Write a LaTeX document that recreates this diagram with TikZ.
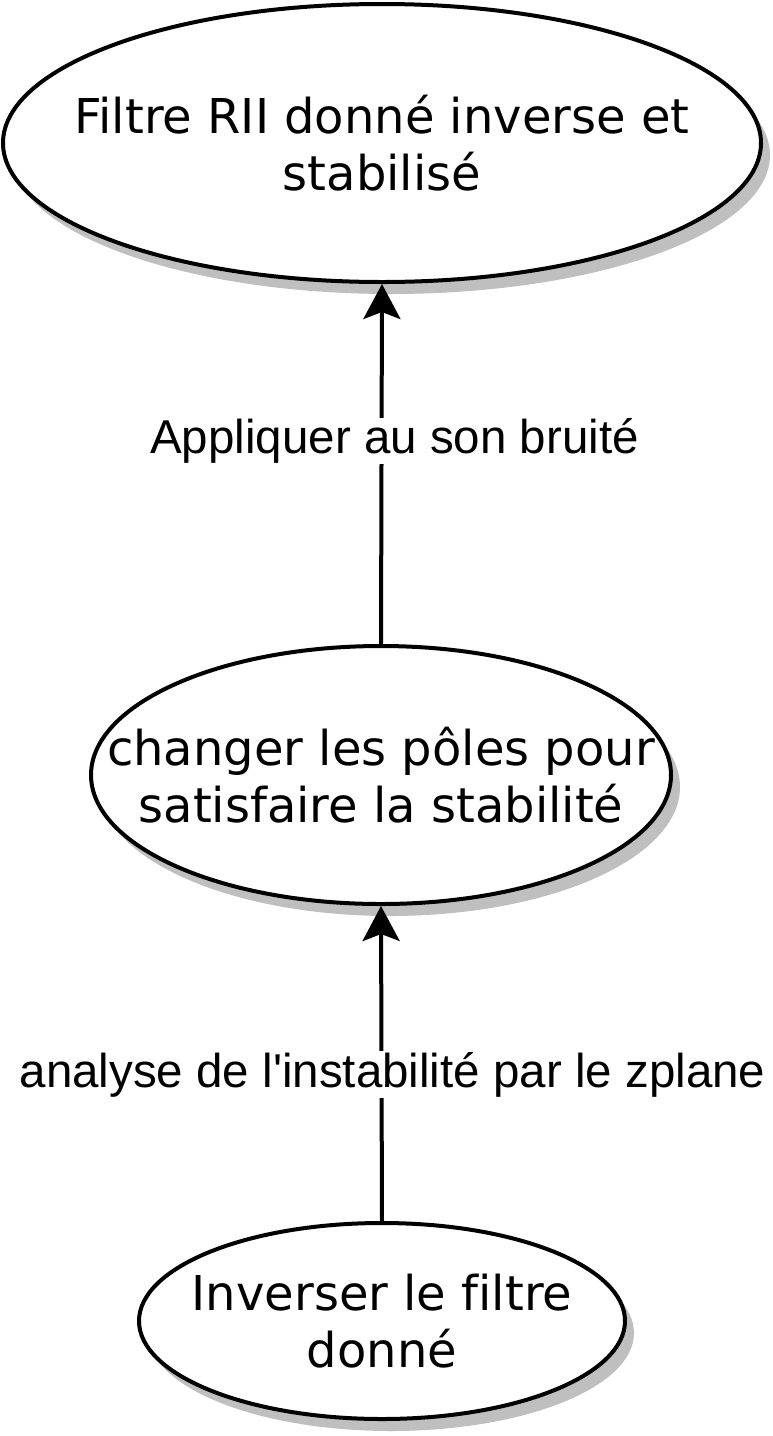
\documentclass[tikz,border=0pt]{standalone}
\usepackage{fontspec}
\newfontfamily\ellfont[Ligatures=NoCommon]{DejaVu Sans}
\newfontfamily\labfont{Liberation Sans}
\usetikzlibrary{arrows.meta, shapes.geometric}

\begin{document}
\begin{tikzpicture}[x=1pt, y=-1pt,
    etape/.style={draw, ellipse, line width=4pt, fill=white, inner sep=0pt,
                  preaction={fill=black!25,
                             transform canvas={xshift=9pt, yshift=-12pt}}},
    etxt/.style={align=center, font=\ellfont\fontsize{48}{57}\selectfont},
    fleche/.style={-{Stealth[length=35pt, width=37pt, inset=7pt]}, line width=4pt},
    etiq/.style={fill=white, inner sep=1pt, font=\labfont\fontsize{47.5}{56}\selectfont}
]
\useasboundingbox (0,0) rectangle (772,1436);

% Etapes
\node[etape, minimum width=758pt, minimum height=278pt] (stab) at (382,143) {};
\node[etxt] (stabt) at (stab) {Filtre RII donné inverse et\\stabilisé};

\node[etape, minimum width=580pt, minimum height=258pt] (poles) at (381,775) {};
\node[etxt] (polest) at (poles) {changer les pôles pour\\satisfaire la stabilité};

\node[etape, minimum width=486pt, minimum height=196pt] (inv) at (382,1321) {};
\node[etxt] (invt) at (inv) {Inverser le filtre\\donné};

% Liaisons
\draw[fleche] (inv.north) -- node[etiq, pos=0.464, xshift=11pt] {analyse de l'instabilité par le zplane} (poles.south);
\draw[fleche] (poles.north) -- node[etiq, pos=0.564, xshift=13pt] {Appliquer au son bruité} (stab.south);
\end{tikzpicture}
\end{document}
